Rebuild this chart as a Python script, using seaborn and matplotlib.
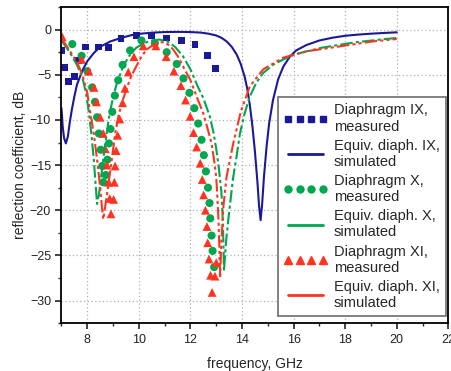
import matplotlib
matplotlib.use("Agg")
import matplotlib.pyplot as plt
import seaborn as sns
import pandas as pd
from matplotlib.lines import Line2D
from matplotlib.ticker import MultipleLocator

f_meas_9 = [7.01, 7.13, 7.26, 7.5, 7.67, 7.93, 8.45, 8.83, 9.31, 9.9, 10.5,
            11.08, 11.66, 12.18, 12.65, 12.98]
db_meas_9 = [-2.33, -4.15, -5.74, -5.15, -3.44, -1.93, -1.93, -1.96, -0.96, -0.67,
             -0.67, -0.93, -1.19, -1.67, -2.85, -4.26]

f_sim_9 = [7.0, 7.05, 7.1, 7.17, 7.25, 7.32, 7.4, 7.5, 7.6, 7.8, 8.0, 8.25, 8.5,
           8.9, 9.3, 9.7, 10.0, 10.5, 11.0, 11.5, 12.0, 12.4, 12.7, 13.0, 13.2,
           13.4, 13.6, 13.8, 13.95, 14.1, 14.2, 14.3, 14.4, 14.5, 14.6, 14.66,
           14.72, 14.78, 14.85, 14.95, 15.05, 15.2, 15.4, 15.6, 15.85, 16.1,
           16.5, 17.0, 17.5, 18.0, 18.5, 19.0, 19.5, 20.0]
db_sim_9 = [-8.7, -10.8, -12.0, -12.6, -11.8, -10.3, -8.9, -7.4, -6.1, -4.6,
            -3.5, -2.6, -1.9, -1.3, -0.93, -0.62, -0.47, -0.34, -0.27, -0.25,
            -0.27, -0.33, -0.45, -0.65, -0.9, -1.3, -1.9, -2.8, -3.8, -5.2,
            -6.5, -8.3, -10.6, -13.5, -17.0, -19.5, -21.1, -19.3, -16.3, -13.0,
            -10.4, -7.8, -5.5, -4.1, -3.0, -2.3, -1.7, -1.2, -0.9, -0.68, -0.55,
            -0.45, -0.37, -0.3]

f_meas_10 = [7.42, 7.78, 8.0, 8.19, 8.3, 8.38, 8.45, 8.52, 8.58, 8.62, 8.72,
             8.78, 8.84, 8.9, 8.97, 9.07, 9.2, 9.37, 9.66, 10.1, 10.62, 11.08,
             11.47, 11.73, 11.96, 12.15, 12.3, 12.43, 12.52, 12.6, 12.68, 12.74,
             12.77, 12.82, 12.86, 12.92]
db_meas_10 = [-1.6, -2.9, -4.6, -6.4, -8.0, -9.7, -11.5, -13.3, -15.1, -16.9,
              -16.1, -14.4, -12.6, -11.0, -9.1, -7.3, -5.6, -3.9, -2.3, -1.2,
              -1.5, -2.5, -3.8, -5.4, -7.0, -8.7, -10.4, -12.2, -13.9, -15.7,
              -17.5, -19.2, -20.9, -22.8, -24.5, -26.3]

f_sim_10 = [7.0, 7.2, 7.4, 7.6, 7.8, 7.95, 8.05, 8.15, 8.25, 8.32, 8.38, 8.45,
            8.56, 8.7, 8.85, 9.0, 9.15, 9.4, 9.65, 9.9, 10.2, 10.5, 10.8, 11.1,
            11.4, 11.7, 12.0, 12.3, 12.5, 12.75, 12.9, 13.0, 13.1, 13.2, 13.26,
            13.3, 13.38, 13.45, 13.53, 13.65, 13.79, 13.92, 14.1, 14.3, 14.55,
            14.82, 15.2, 15.6, 16.0, 16.5, 17.1, 17.8, 18.4, 19.09, 19.5, 20.0]
db_sim_10 = [-1.2, -2.0, -2.9, -3.9, -5.2, -7.0, -8.9, -11.3, -14.3, -17.0,
             -19.3, -18.3, -15.8, -12.5, -9.6, -7.5, -5.9, -4.0, -2.8, -2.0,
             -1.5, -1.2, -1.1, -1.3, -1.9, -2.9, -4.4, -6.4, -7.6, -9.6, -11.5,
             -13.2, -15.3, -18.0, -21.5, -26.7, -23.5, -21.5, -19.5, -16.5,
             -14.0, -11.5, -9.3, -7.4, -5.9, -4.8, -3.9, -3.3, -2.8, -2.4, -2.0,
             -1.67, -1.4, -1.19, -1.05, -0.93]

f_meas_11 = [7.03, 7.78, 8.06, 8.26, 8.36, 8.5, 8.62, 8.7, 8.76, 8.83, 8.87,
             8.92, 9.02, 9.05, 9.08, 9.12, 9.18, 9.26, 9.37, 9.46, 9.59, 9.81,
             10.17, 10.66, 11.06, 11.36, 11.63, 11.81, 11.99, 12.12, 12.24,
             12.38, 12.46, 12.51, 12.58, 12.64, 12.67, 12.72, 12.78, 12.84,
             12.95, 13.0]
db_meas_11 = [-0.8, -3.3, -4.6, -6.4, -8.0, -9.7, -11.5, -13.2, -15.0, -16.9,
              -18.7, -20.4, -18.8, -16.9, -15.1, -13.4, -11.7, -9.9, -8.1, -6.5,
              -4.7, -3.0, -1.8, -1.8, -3.0, -4.6, -6.2, -7.8, -9.6, -11.4, -13.0,
              -14.8, -16.6, -18.3, -20.0, -21.8, -23.6, -25.4, -27.2, -29.1,
              -27.3, -25.8]

f_sim_11 = [7.0, 7.2, 7.4, 7.6, 7.8, 8.0, 8.1, 8.25, 8.4, 8.5, 8.57, 8.62, 8.7,
            8.81, 9.0, 9.1, 9.23, 9.4, 9.53, 9.7, 9.91, 10.1, 10.3, 10.55, 10.8,
            11.0, 11.2, 11.33, 11.5, 11.72, 12.0, 12.24, 12.5, 12.65, 12.82,
            12.92, 13.0, 13.08, 13.12, 13.15, 13.2, 13.28, 13.4, 13.66, 13.95,
            14.3, 14.82, 15.6, 16.5, 17.8, 19.09, 20.0]
db_sim_11 = [-1.0, -1.8, -2.7, -3.6, -4.9, -7.0, -8.9, -11.5, -14.8, -17.5,
             -19.7, -21.0, -19.5, -17.4, -13.3, -11.2, -9.3, -7.6, -6.5, -5.2,
             -4.0, -3.0, -2.2, -1.7, -1.4, -1.4, -1.8, -2.2, -2.9, -4.1, -5.6,
             -7.4, -9.3, -10.8, -12.6, -14.5, -16.3, -20.5, -24.0, -27.5, -23.5,
             -19.5, -16.3, -12.6, -9.1, -6.3, -4.4, -3.1, -2.4, -1.85, -1.3,
             -1.04]

blue = "#1a1a99"
green = "#00a650"
red = "#ff3320"

sns.set_style("ticks")
plt.rcParams["font.family"] = ["Liberation Sans", "DejaVu Sans"]

fig = plt.figure(figsize=(4.52, 3.71), dpi=100)
ax = fig.add_axes([0.136, 0.129, 0.856, 0.852])

# simulated curves
sns.lineplot(x=f_sim_9, y=db_sim_9, ax=ax, color=blue, lw=1.5, sort=False,
             estimator=None)
sns.lineplot(x=f_sim_10, y=db_sim_10, ax=ax, color=green, lw=1.5, sort=False,
             estimator=None, linestyle=(0, (6, 1.5, 1.5, 1.5)))
sns.lineplot(x=f_sim_11, y=db_sim_11, ax=ax, color=red, lw=1.5, sort=False,
             estimator=None, linestyle=(0, (6, 1.5, 1.5, 1.5, 1.5, 1.5)))

# measured points
sns.scatterplot(x=f_meas_9, y=db_meas_9, ax=ax, color=blue, marker="s", s=24,
                edgecolor="none")
sns.scatterplot(x=f_meas_10, y=db_meas_10, ax=ax, color=green, marker="o", s=34,
                edgecolor="none")
sns.scatterplot(x=f_meas_11, y=db_meas_11, ax=ax, color=red, marker="^", s=40,
                edgecolor="none")

ax.set_xlim(7, 22)
ax.set_ylim(-32.5, 2.5)
ax.xaxis.set_major_locator(MultipleLocator(2))
ax.xaxis.set_minor_locator(MultipleLocator(1))
ax.yaxis.set_major_locator(MultipleLocator(5))
ax.yaxis.set_minor_locator(MultipleLocator(2.5))
ax.grid(True, which="major", color="#b0b0b0", linestyle=(0, (1, 2)), lw=0.9)
ax.tick_params(which="major", direction="out", length=4, width=1.2,
               labelsize=9, colors="#222222")
ax.tick_params(which="minor", direction="out", length=2.5, width=1.0)
for sp in ax.spines.values():
    sp.set_linewidth(1.3)
    sp.set_color("black")

ax.set_xlabel("frequency, GHz", fontsize=10, labelpad=8)
ax.set_ylabel("reflection coefficient, dB", fontsize=10, labelpad=2)

handles = [
    Line2D([], [], color=blue, marker="s", ls="none", ms=4.5),
    Line2D([], [], color=blue, lw=2),
    Line2D([], [], color=green, marker="o", ls="none", ms=5),
    Line2D([], [], color=green, lw=2),
    Line2D([], [], color=red, marker="^", ls="none", ms=5.5),
    Line2D([], [], color=red, lw=2),
]
labels = [
    "Diaphragm IX,\nmeasured",
    "Equiv. diaph. IX,\nsimulated",
    "Diaphragm X,\nmeasured",
    "Equiv. diaph. X,\nsimulated",
    "Diaphragm XI,\nmeasured",
    "Equiv. diaph. XI,\nsimulated",
]
leg = ax.legend(handles, labels, loc="lower right", bbox_to_anchor=(0.993, 0.023),
                fontsize=10.5, numpoints=4, handlelength=3.0, labelspacing=0.35,
                handletextpad=0.45, borderpad=0.4, borderaxespad=0.0,
                fancybox=False, framealpha=1)
leg.get_frame().set_edgecolor("#777777")
leg.get_frame().set_linewidth(1.3)

fig.savefig("out.png", dpi=100)
